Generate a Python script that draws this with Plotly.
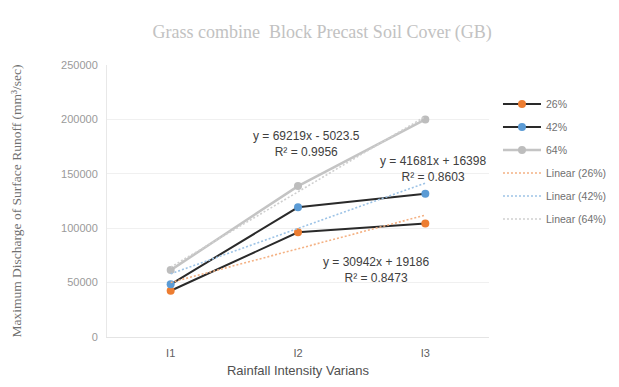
import plotly.graph_objects as go

categories = ["I1", "I2", "I3"]
x_pos = [1, 2, 3]
s26 = [42500, 96200, 104400]
s42 = [48400, 119200, 131700]
s64 = [61500, 138700, 200000]

trend_slope = {"26%": 30942, "42%": 41681, "64%": 69219}
trend_icpt = {"26%": 19186, "42%": 16398, "64%": -5023.5}
trend_r2 = {"26%": 0.8473, "42%": 0.8603, "64%": 0.9956}
trend_names = {"26%": "Linear (26%)", "42%": "Linear (42%)", "64%": "Linear (64%)"}

y_ticks = [0, 50000, 100000, 150000, 200000, 250000]

SANS = "Liberation Sans, Arial"
SERIF = "Liberation Serif, Times New Roman"

fig = go.Figure()

series = [("26%", s26, "#2A2A2A", "#ED7D31", 2),
          ("42%", s42, "#2A2A2A", "#5B9BD5", 2),
          ("64%", s64, "#C4C4C4", "#BDBDBD", 2.5)]
for i, (name, vals, lc, mc, lw) in enumerate(series):
    fig.add_trace(go.Scatter(x=x_pos, y=vals, name=name, mode="lines+markers",
                             line=dict(color=lc, width=lw),
                             marker=dict(color=mc, size=8),
                             legendgroup=f"g{i}"))

tcolors = {"26%": "#F4B183", "42%": "#9DC3E6", "64%": "#CFCFCF"}
for i, key in enumerate(["26%", "42%", "64%"]):
    ty = [trend_slope[key] * x + trend_icpt[key] for x in x_pos]
    fig.add_trace(go.Scatter(x=x_pos, y=ty, name=trend_names[key], mode="lines",
                             line=dict(color=tcolors[key], width=1.6, dash="2px,2px"),
                             legendgroup=f"t{i}"))

def eq(key):
    b = trend_slope[key]
    a = trend_icpt[key]
    sign = "+" if a >= 0 else "-"
    return f"y = {b}x {sign} {abs(a):g}<br>R² = {trend_r2[key]}"

ann_pos = {"64%": (2.067, 177800), "42%": (3.063, 154400), "26%": (2.616, 62000)}
for key, (ax, ay) in ann_pos.items():
    fig.add_annotation(x=ax, y=ay, xref="x", yref="y", text=eq(key), showarrow=False,
                       font=dict(family=SANS, size=12, color="#404040"),
                       align="center")

# the page body adds an 8px offset; figure sized so the page does not overflow
fig.update_layout(
    width=603, height=371,
    margin=dict(l=99, r=122, t=57, b=42, autoexpand=False),
    paper_bgcolor="white", plot_bgcolor="white",
    title=dict(text="Grass combine  Block Precast Soil Cover (GB)",
               x=0.521, xanchor="center", y=0.935, yanchor="middle",
               font=dict(family=SERIF, size=18, color="#C2C2C2")),
    showlegend=True,
    legend=dict(x=1.0235, y=0.91, xanchor="left", yanchor="top",
                font=dict(family=SANS, size=10.5, color="#707070"),
                tracegroupgap=4, itemwidth=38, bgcolor="rgba(0,0,0,0)"),
    xaxis=dict(range=[0.5, 3.5], tickvals=x_pos, ticktext=categories,
               showgrid=False, showline=True, linecolor="#E4E4E4", zeroline=False,
               ticks="", ticklabelstandoff=6,
               tickfont=dict(family=SANS, size=11, color="#606060"),
               title=dict(text="Rainfall Intensity Varians", standoff=7,
                          font=dict(family=SANS, size=13, color="#505050"))),
    yaxis=dict(range=[0, 250000], tickvals=y_ticks, ticktext=[str(v) for v in y_ticks],
               showgrid=True, gridcolor="#F0F0F0", showline=True, linecolor="#E8E8E8",
               zeroline=False, ticks="", ticklabelstandoff=6,
               tickfont=dict(family=SANS, size=11, color="#9A9A9A"),
               title=dict(text="Maximum Discharge of Surface Runoff (mm³/sec)", standoff=36,
                          font=dict(family=SERIF, size=13.5, color="#707070"))),
)

fig.write_html("out.html")
